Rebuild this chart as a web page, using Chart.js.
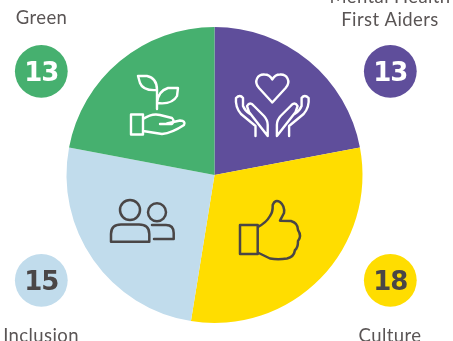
<!DOCTYPE html>
<html><head><meta charset="utf-8">
<style>html,body{margin:0;padding:0;background:#fff;overflow:hidden}#w{position:relative;width:453px;height:341px}</style>
<script src="https://cdn.jsdelivr.net/npm/chart.js@4"></script>
</head><body><div id="w"><canvas id="c" width="453" height="341"></canvas></div>
<script>
const categories = ["Mental Health\nFirst Aiders", "Culture", "Inclusion", "Green"];
const values = [13, 18, 15, 13];
const colors = ["#5F4E9B", "#FFDD00", "#C1DCEC", "#46B06F"];
const badgeText = ["#FFFFFF", "#4A4646", "#4A4646", "#FFFFFF"];
const INK = "#4A4646", LABEL = "#5A5555";
const badgeSpots = [[390.3,71.3],[390.3,280.3],[41.3,280.3],[41.3,71.3]];
const labelSpots = [[390,26],[390,341.5],[41,341.5],[41.5,24]];

function stroke(ctx, color, w, fn){
  ctx.save(); ctx.strokeStyle=color; ctx.lineWidth=w; ctx.lineJoin="round"; ctx.lineCap="round";
  ctx.beginPath(); fn(ctx); ctx.stroke(); ctx.restore();
}
function plant(c){
  c.moveTo(138,76); c.lineTo(147,76); c.quadraticCurveTo(157,78,157,90); c.quadraticCurveTo(143,91,140,83); c.closePath();
  c.moveTo(178,88); c.lineTo(168,88); c.quadraticCurveTo(158,91,157,103); c.quadraticCurveTo(172,105,177,96); c.closePath();
  c.moveTo(157,90); c.lineTo(157,109);
  c.rect(131,114.5,12,20);
  c.moveTo(143,119); c.quadraticCurveTo(152,113,160,115); c.lineTo(172,118); c.quadraticCurveTo(175,121,172,124); c.lineTo(160,124);
  c.moveTo(167,123.5); c.lineTo(180,120.5); c.quadraticCurveTo(186,121,184,125); c.quadraticCurveTo(172,133,162,134); c.lineTo(143,131);
}
function heartHands(c){
  c.moveTo(272.3,102.5); c.lineTo(259,88); c.bezierCurveTo(253,81,258,74,264.5,74.5); c.bezierCurveTo(268,74.5,271,77,272.3,79.5);
  c.bezierCurveTo(273.6,77,276.6,74.5,280,74.5); c.bezierCurveTo(286.6,74,291.6,81,285.6,88); c.closePath();
  [0,1].forEach(m=>{
    const X=x=>m?2*272.3-x:x;
    c.moveTo(X(255.5),136); c.lineTo(X(255.5),126); c.lineTo(X(241),114); c.quadraticCurveTo(X(235),107,X(236),98);
    c.quadraticCurveTo(X(240),94,X(243),98); c.lineTo(X(243),106); c.quadraticCurveTo(X(245),111,X(250),114);
    c.moveTo(X(249),112); c.lineTo(X(247),106); c.quadraticCurveTo(X(250),101,X(254),106);
    c.lineTo(X(264),116); c.quadraticCurveTo(X(267.7),120,X(267.7),125); c.lineTo(X(267.7),136); c.closePath();
  });
}
function people(c){
  c.moveTo(140,210); c.arc(130,210,10,0,Math.PI*2);
  c.moveTo(166,212.3); c.arc(157,212.3,9,0,Math.PI*2);
  c.moveTo(111,241.7); c.lineTo(111,234); c.quadraticCurveTo(111,224.5,121,224.5); c.lineTo(139,224.5);
  c.quadraticCurveTo(149.3,224.5,149.3,234); c.lineTo(149.3,241.7); c.closePath();
  c.moveTo(152,225); c.lineTo(166,225); c.quadraticCurveTo(173.7,225,173.7,233); c.lineTo(173.7,239); c.lineTo(154,239);
}
function thumb(c){
  c.rect(240,225,17.7,29);
  c.moveTo(257.7,227); c.quadraticCurveTo(266,223,270,216); c.quadraticCurveTo(273,212,272.7,205);
  c.quadraticCurveTo(275,199,280,202); c.quadraticCurveTo(285,206,284,213); c.lineTo(280,220.7); c.lineTo(291,221);
  c.quadraticCurveTo(298,223,298,230); c.quadraticCurveTo(302,236,298,241); c.quadraticCurveTo(298,248,295,250);
  c.quadraticCurveTo(294,257,287,258.5); c.quadraticCurveTo(278,260,270,258.5); c.lineTo(257.7,252.5);
}

const decor = {
  id:"decor",
  afterDatasetsDraw(chart){
    const ctx=chart.ctx, a=chart.getDatasetMeta(0).data[0];
    ctx.save();
    ctx.translate(a.x-214.5,a.y-175);
    stroke(ctx,"#FFFFFF",2.4,plant);
    stroke(ctx,"#FFFFFF",2.4,heartHands);
    stroke(ctx,INK,2.5,people);
    stroke(ctx,INK,2.5,thumb);
    ctx.restore();
    ctx.save();
    values.forEach((v,i)=>{
      const [bx,by]=badgeSpots[i];
      ctx.fillStyle=colors[i]; ctx.beginPath(); ctx.arc(bx,by,26.4,0,Math.PI*2); ctx.fill();
      ctx.fillStyle=badgeText[i]; ctx.font='bold 26px "DejaVu Sans"'; ctx.textAlign="center"; ctx.textBaseline="alphabetic";
      ctx.letterSpacing="-1px";
      ctx.fillText(String(v),bx,by+9.5);
      const lines=categories[i].split("\n"), [lx,ly]=labelSpots[i];
      ctx.fillStyle=LABEL; ctx.font='18.5px Lato'; ctx.letterSpacing="0.4px";
      lines.forEach((t,k)=>ctx.fillText(t,lx,ly-(lines.length-1-k)*23));
      ctx.letterSpacing="0px";
    });
    ctx.restore();
  }
};
new Chart(document.getElementById("c"),{
  type:"pie",
  data:{labels:categories,datasets:[{data:values,backgroundColor:colors,borderWidth:0}]},
  options:{responsive:false,animation:false,
    layout:{padding:{left:66.5,right:90.5,top:27,bottom:18}},
    plugins:{legend:{display:false},tooltip:{enabled:false}}},
  plugins:[decor]
});
</script></body></html>
